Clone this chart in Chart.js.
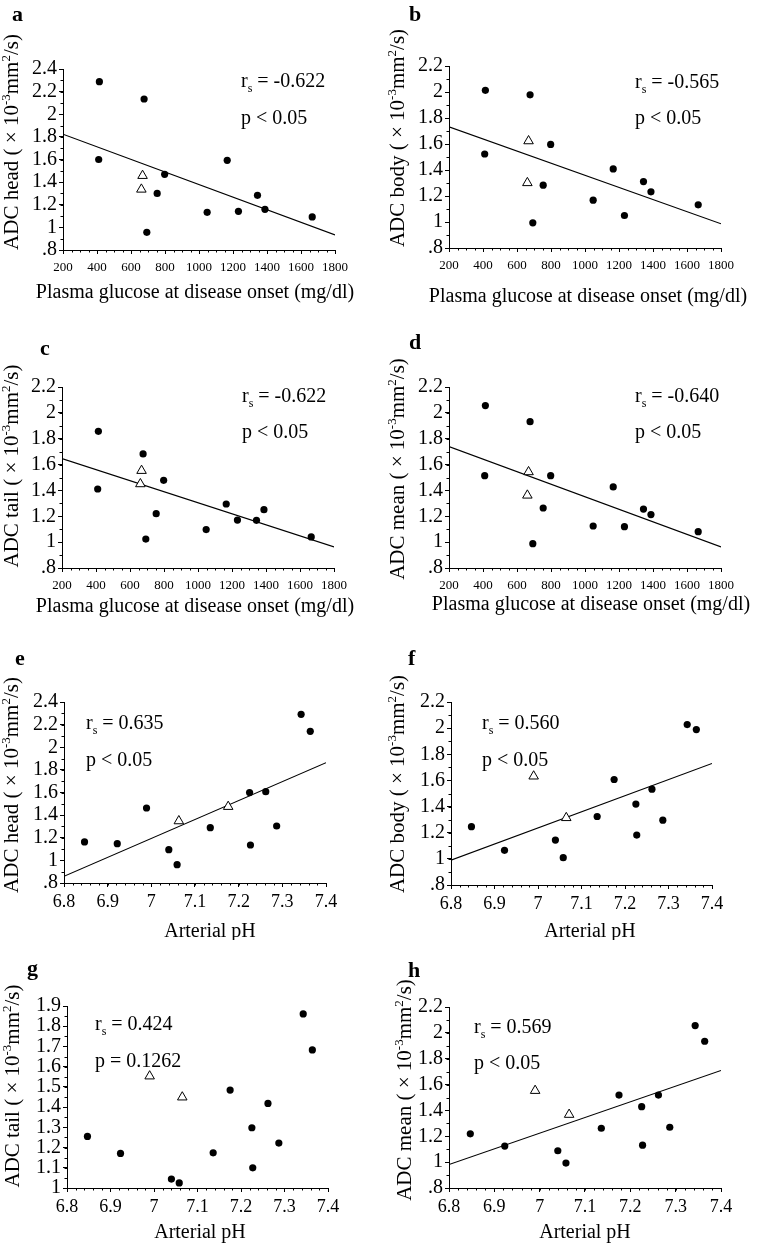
<!DOCTYPE html>
<html>
<head>
<meta charset="utf-8">
<script src="https://cdn.jsdelivr.net/npm/chart.js@4.4.1/dist/chart.umd.min.js"></script>
<style>
  html, body { margin: 0; padding: 0; background: #fff; }
  body { width: 767px; height: 1246px; position: relative; overflow: hidden; }
  .panel { position: absolute; }
</style>
</head>
<body>
<script>
// ---- data ----
const glucoseX = [414, 410, 677, 693, 754, 798, 1048, 1166, 1232, 1344, 1388, 1666];
const glucoseTriX = [668, 661];
const glucoseFitX = [200, 1800];

const phX_e = [6.847, 6.922, 6.989, 7.040, 7.059, 7.135, 7.225, 7.227, 7.262, 7.287, 7.343, 7.364];
const phTriX_e = [7.063, 7.176];
const phX = [6.847, 6.923, 7.040, 7.058, 7.136, 7.175, 7.225, 7.227, 7.262, 7.287, 7.343, 7.364];
const phTriX = [6.990, 7.065];
const phFitX = [6.8, 7.4];

const headGlucose = [2.288, 1.600, 2.135, 0.956, 1.300, 1.469, 1.133, 1.593, 1.142, 1.283, 1.160, 1.092];
const headGlucoseTri = [1.457, 1.336];
const headGlucoseFit = [1.823, 0.933];

const bodyGlucose = [2.013, 1.523, 1.978, 0.994, 1.283, 1.597, 1.168, 1.408, 1.050, 1.311, 1.232, 1.132];
const bodyGlucoseTri = [1.623, 1.301];
const bodyGlucoseFit = [1.732, 0.986];

const tailGlucose = [1.857, 1.411, 1.682, 1.024, 1.220, 1.478, 1.097, 1.295, 1.171, 1.169, 1.251, 1.040];
const tailGlucoseTri = [1.553, 1.450];
const tailGlucoseFit = [1.646, 0.963];

const meanGlucose = [2.056, 1.514, 1.932, 0.988, 1.264, 1.514, 1.125, 1.427, 1.120, 1.256, 1.213, 1.081];
const meanGlucoseTri = [1.543, 1.362];
const meanGlucoseFit = [1.739, 0.963];

const headPh = [1.163, 1.148, 1.463, 1.095, 0.962, 1.289, 1.599, 1.136, 1.607, 1.304, 2.291, 2.141];
const headPhTri = [1.348, 1.475];
const headPhFit = [0.859, 1.864];

const bodyPh = [1.246, 1.065, 1.144, 1.009, 1.324, 1.607, 1.419, 1.182, 1.533, 1.296, 2.027, 1.989];
const bodyPhTri = [1.632, 1.314];
const bodyPhFit = [0.99, 1.73];

const tailPh = [1.255, 1.171, 1.044, 1.025, 1.174, 1.484, 1.298, 1.100, 1.418, 1.222, 1.861, 1.683];
const tailPhTri = [1.553, 1.449];

const meanPh = [1.219, 1.124, 1.088, 0.993, 1.262, 1.519, 1.429, 1.131, 1.519, 1.270, 2.056, 1.935];
const meanPhTri = [1.553, 1.368];
const meanPhFit = [0.982, 1.709];

// tick labels
const glucoseTicks = [200, 400, 600, 800, 1000, 1200, 1400, 1600, 1800];
const phTicks = [6.8, 6.9, 7.0, 7.1, 7.2, 7.3, 7.4];
const adcTicksHigh = [0.8, 1.0, 1.2, 1.4, 1.6, 1.8, 2.0, 2.2, 2.4];
const adcTicks = [0.8, 1.0, 1.2, 1.4, 1.6, 1.8, 2.0, 2.2];
const adcTicksTail = [1.0, 1.1, 1.2, 1.3, 1.4, 1.5, 1.6, 1.7, 1.8, 1.9];

const rsValues = ["-0.622", "-0.565", "-0.622", "-0.640", "0.635", "0.560", "0.424", "0.569"];
const pValues = ["p < 0.05", "p < 0.05", "p < 0.05", "p < 0.05", "p < 0.05", "p < 0.05", "p = 0.1262", "p < 0.05"];

const glucoseTitle = "Plasma glucose at disease onset (mg/dl)";
const phTitle = "Arterial pH";

const panels = [
  { letter: "a", region: "head", x: glucoseX, y: headGlucose, tx: glucoseTriX, ty: headGlucoseTri, fx: glucoseFitX, fy: headGlucoseFit, xt: glucoseTicks, yt: adcTicksHigh, xTitle: glucoseTitle },
  { letter: "b", region: "body", x: glucoseX, y: bodyGlucose, tx: glucoseTriX, ty: bodyGlucoseTri, fx: glucoseFitX, fy: bodyGlucoseFit, xt: glucoseTicks, yt: adcTicks, xTitle: glucoseTitle },
  { letter: "c", region: "tail", x: glucoseX, y: tailGlucose, tx: glucoseTriX, ty: tailGlucoseTri, fx: glucoseFitX, fy: tailGlucoseFit, xt: glucoseTicks, yt: adcTicks, xTitle: glucoseTitle },
  { letter: "d", region: "mean", x: glucoseX, y: meanGlucose, tx: glucoseTriX, ty: meanGlucoseTri, fx: glucoseFitX, fy: meanGlucoseFit, xt: glucoseTicks, yt: adcTicks, xTitle: glucoseTitle },
  { letter: "e", region: "head", x: phX_e, y: headPh, tx: phTriX_e, ty: headPhTri, fx: phFitX, fy: headPhFit, xt: phTicks, yt: adcTicksHigh, xTitle: phTitle },
  { letter: "f", region: "body", x: phX, y: bodyPh, tx: phTriX, ty: bodyPhTri, fx: phFitX, fy: bodyPhFit, xt: phTicks, yt: adcTicks, xTitle: phTitle },
  { letter: "g", region: "tail", x: phX, y: tailPh, tx: phTriX, ty: tailPhTri, fx: null, fy: null, xt: phTicks, yt: adcTicksTail, xTitle: phTitle },
  { letter: "h", region: "mean", x: phX, y: meanPh, tx: phTriX, ty: meanPhTri, fx: phFitX, fy: meanPhFit, xt: phTicks, yt: adcTicks, xTitle: phTitle },
];

// ---- layout (page pixels) ----
// box: canvas [left, top, w, h]; area: plot [l, t, r, b]
const layout = [
  { box: [0, 0, 383, 312],     area: [63, 69, 335, 250],    letter: [12, 21],   yTitle: [18, 142],   xTitle: [195, 298],  stats: [241, 87, 124],   xFont: 13, xMinor: 50 },
  { box: [383, 0, 384, 312],   area: [449, 66, 721, 248],   letter: [409, 21],  yTitle: [404, 138],  xTitle: [588, 302],  stats: [635, 88, 124],   xFont: 13, xMinor: 50 },
  { box: [0, 312, 383, 316],   area: [62, 387, 334, 568],   letter: [40, 355],  yTitle: [18, 466],   xTitle: [195, 612],  stats: [242, 402, 438],  xFont: 13, xMinor: 50 },
  { box: [383, 312, 384, 316], area: [449, 387, 721, 568],  letter: [409, 349], yTitle: [404, 469],  xTitle: [591, 610],  stats: [635, 402, 438],  xFont: 13, xMinor: 50 },
  { box: [0, 628, 383, 312],   area: [64, 702, 326, 883],   letter: [15, 665],  yTitle: [18, 785],   xTitle: [210, 937],  stats: [86, 729, 766],   xFont: 18, xMinor: 0.02 },
  { box: [383, 628, 384, 312], area: [451, 702, 712, 885],  letter: [408, 665], yTitle: [404, 784],  xTitle: [590, 937],  stats: [482, 729, 766],  xFont: 18, xMinor: 0.02 },
  { box: [0, 940, 383, 306],   area: [67, 1006, 328, 1188], letter: [27, 975],  yTitle: [19, 1086],  xTitle: [200, 1238], stats: [95, 1030, 1067], xFont: 18, xMinor: 0.02 },
  { box: [383, 940, 384, 306], area: [449, 1007, 721, 1188], letter: [408, 977], yTitle: [411, 1090], xTitle: [585, 1238], stats: [474, 1033, 1069], xFont: 18, xMinor: 0.02 },
];

const SERIF = "'Liberation Serif', 'Times New Roman', serif";
Chart.defaults.font.family = SERIF;
Chart.defaults.color = "#000";

function fmt(v) {
  let s = String(+v.toFixed(2));
  return s.startsWith("0.") ? s.slice(1) : s;
}

function richWidth(ctx, parts, size) {
  let w = 0;
  parts.forEach(p => {
    ctx.font = (p.s ? Math.round(size * 0.62) : size) + "px " + SERIF;
    w += ctx.measureText(p.t).width;
  });
  return w;
}
function drawRich(ctx, parts, x, y, size) {
  parts.forEach(p => {
    ctx.font = (p.s ? Math.round(size * 0.62) : size) + "px " + SERIF;
    ctx.fillText(p.t, x, y + (p.s || 0));
    x += ctx.measureText(p.t).width;
  });
}

const minorTicks = {
  id: "minorTicks",
  afterDraw(chart, args, opts) {
    const { ctx } = chart;
    const xs = chart.scales.x, ys = chart.scales.y;
    ctx.save();
    ctx.strokeStyle = "#000";
    ctx.lineWidth = 1;
    ctx.beginPath();
    let n = Math.round((xs.max - xs.min) / opts.xStep);
    for (let i = 0; i <= n; i++) {
      const px = Math.round(xs.getPixelForValue(xs.min + i * opts.xStep)) + 0.5;
      ctx.moveTo(px, xs.top);
      ctx.lineTo(px, xs.top + 2.5);
    }
    n = Math.round((ys.max - ys.min) / opts.yStep);
    for (let i = 0; i <= n; i++) {
      const py = Math.round(ys.getPixelForValue(ys.min + i * opts.yStep)) + 0.5;
      ctx.moveTo(ys.right, py);
      ctx.lineTo(ys.right - 2.5, py);
    }
    ctx.stroke();
    ctx.restore();
  }
};

const panelText = {
  id: "panelText",
  afterDraw(chart, args, o) {
    const { ctx } = chart;
    const ox = o.box[0], oy = o.box[1];
    ctx.save();
    ctx.fillStyle = "#000";
    ctx.textBaseline = "alphabetic";
    ctx.textAlign = "left";

    // panel letter
    ctx.font = "bold 22px " + SERIF;
    ctx.fillText(o.letter, o.pos.letter[0] - ox, o.pos.letter[1] - oy);

    // x title
    ctx.font = "20px " + SERIF;
    ctx.textAlign = "center";
    ctx.fillText(o.xTitle, o.pos.xTitle[0] - ox, o.pos.xTitle[1] - oy);
    ctx.textAlign = "left";

    // y title with superscripts
    const parts = [
      { t: "ADC " + o.region + " ( \u00d7 10" },
      { t: "-3", s: -8 },
      { t: "mm" },
      { t: "2", s: -8 },
      { t: "/s)" }
    ];
    const w = richWidth(ctx, parts, 21);
    ctx.save();
    ctx.translate(o.pos.yTitle[0] - ox, o.pos.yTitle[1] - oy);
    ctx.rotate(-Math.PI / 2);
    drawRich(ctx, parts, -w / 2, 0, 21);
    ctx.restore();

    // statistics
    const sx = o.pos.stats[0] - ox;
    drawRich(ctx, [{ t: "r" }, { t: "s", s: 5 }, { t: " = " + o.rs }], sx, o.pos.stats[1] - oy, 20);
    ctx.font = "20px " + SERIF;
    ctx.fillText(o.p, sx, o.pos.stats[2] - oy);
    ctx.restore();
  }
};

panels.forEach((p, i) => {
  const L = layout[i];
  const [bx, by, bw, bh] = L.box;
  const [al, at, ar, ab] = L.area;

  const div = document.createElement("div");
  div.className = "panel";
  div.style.left = bx + "px";
  div.style.top = by + "px";
  div.style.width = bw + "px";
  div.style.height = bh + "px";
  const canvas = document.createElement("canvas");
  canvas.width = bw;
  canvas.height = bh;
  div.appendChild(canvas);
  document.body.appendChild(div);

  const datasets = [
    {
      type: "scatter",
      data: p.x.map((v, k) => ({ x: v, y: p.y[k] })),
      pointStyle: "circle",
      pointRadius: 3.6,
      backgroundColor: "#000",
      borderColor: "#000",
      borderWidth: 0
    },
    {
      type: "scatter",
      data: p.tx.map((v, k) => ({ x: v, y: p.ty[k] })),
      pointStyle: "triangle",
      pointRadius: 5.5,
      backgroundColor: "#fff",
      borderColor: "#000",
      borderWidth: 1
    }
  ];
  if (p.fx) {
    datasets.push({
      type: "line",
      data: p.fx.map((v, k) => ({ x: v, y: p.fy[k] })),
      borderColor: "#000",
      borderWidth: 1.1,
      pointRadius: 0,
      fill: false
    });
  }

  const xMin = p.xt[0], xMax = p.xt[p.xt.length - 1];
  const yMin = p.yt[0], yMax = p.yt[p.yt.length - 1];
  const yStep = (p.yt[1] - p.yt[0]) / 2;

  new Chart(canvas, {
    data: { datasets },
    options: {
      responsive: false,
      animation: false,
      layout: { padding: { top: at - by, right: bx + bw - ar, left: 0, bottom: 0 } },
      plugins: {
        legend: { display: false },
        tooltip: { enabled: false },
        minorTicks: { xStep: L.xMinor, yStep: yStep },
        panelText: { box: L.box, pos: L, letter: p.letter, region: p.region, xTitle: p.xTitle, rs: rsValues[i], p: pValues[i] }
      },
      scales: {
        x: {
          type: "linear",
          min: xMin,
          max: xMax,
          afterFit(scale) { scale.height = by + bh - ab; },
          afterBuildTicks(scale) { scale.ticks = p.xt.map(v => ({ value: v })); },
          grid: { display: true, drawOnChartArea: false, drawTicks: true, tickLength: 4, color: "#000" },
          border: { display: true, color: "#000", width: 1 },
          ticks: {
            autoSkip: false,
            maxRotation: 0,
            padding: L.xFont > 14 ? 4 : 6,
            font: { size: L.xFont },
            callback: v => fmt(v)
          }
        },
        y: {
          type: "linear",
          min: yMin,
          max: yMax,
          afterFit(scale) { scale.width = al - bx; },
          afterBuildTicks(scale) { scale.ticks = p.yt.map(v => ({ value: v })); },
          grid: { display: true, drawOnChartArea: false, drawTicks: true, tickLength: 4, color: "#000" },
          border: { display: true, color: "#000", width: 1 },
          ticks: {
            autoSkip: false,
            padding: 2,
            font: { size: 20 },
            callback: v => fmt(v)
          }
        }
      }
    },
    plugins: [minorTicks, panelText]
  });
});
</script>
</body>
</html>
